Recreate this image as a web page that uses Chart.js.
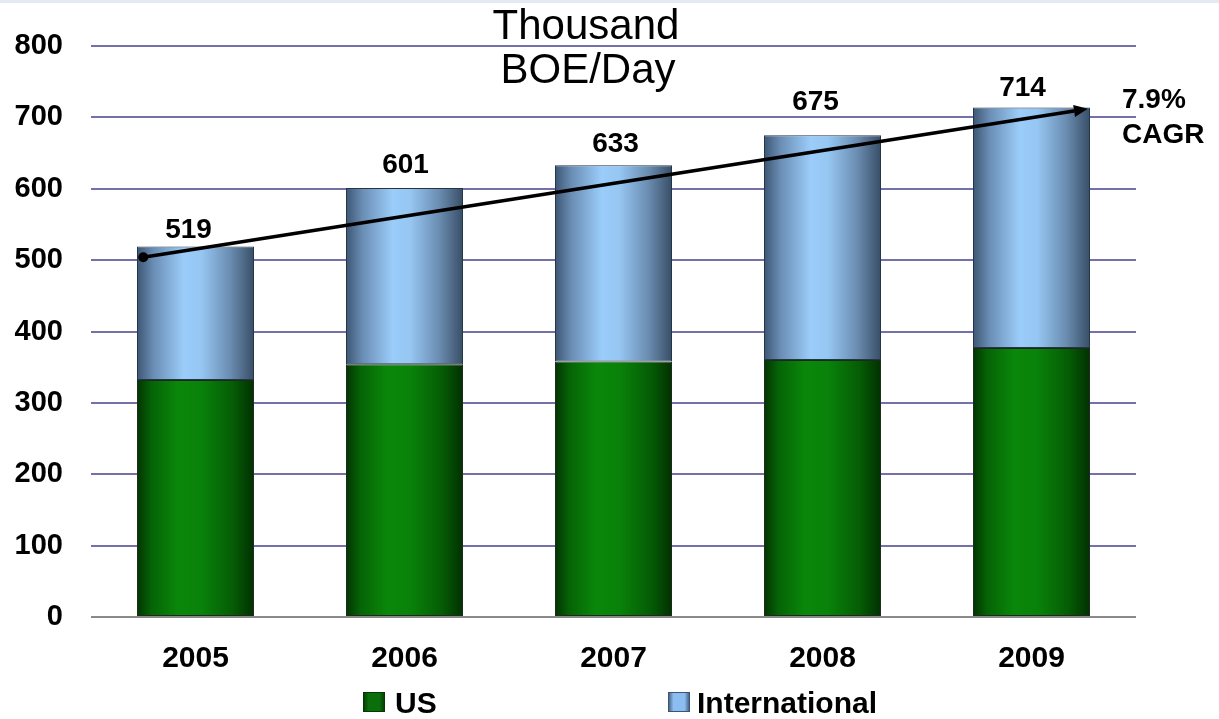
<!DOCTYPE html>
<html>
<head>
<meta charset="utf-8">
<title>Production, Thousand BOE/Day</title>
<script src="https://cdn.jsdelivr.net/npm/chart.js@4.4.1/dist/chart.umd.min.js"></script>
<style>
  html, body { margin: 0; padding: 0; background: #ffffff; }
  #wrap { width: 1219px; height: 719px; position: relative; }
</style>
</head>
<body>
<div id="wrap"><canvas id="c"></canvas></div>
<script>
// Production by region, thousand barrels of oil equivalent per day
const years = ['2005', '2006', '2007', '2008', '2009'];
const usVolume = [332, 354, 358, 360, 377];
const intlVolume = [187, 247, 275, 315, 337];
const yTicks = [0, 100, 200, 300, 400, 500, 600, 700, 800];

// Growth trend arrow (category position, value) and its caption
const trendStart = { x: -0.25, y: 504 };
const trendEnd = { x: 4.27, y: 712 };
const trendCaption = ['7.9%', 'CAGR'];
const unitTitle = ['Thousand', 'BOE/Day'];

const FONT = "'Liberation Sans', Arial, Helvetica, sans-serif";
const BAR_PCT = 0.56;
// hand-placed nudges (px) for the total labels so they clear the arrow
const totalNudgeX = [-7, 1, 2, -7, -9];
const totalLift = [9, 15, 13, 25, 11];

function barGradient(ctx, stops, fallback) {
  const chart = ctx.chart;
  const area = chart.chartArea;
  const xs = chart.scales.x;
  if (!area || !xs || ctx.dataIndex === undefined) return fallback;
  const cx = xs.getPixelForValue(ctx.dataIndex);
  const half = (area.right - area.left) / years.length * BAR_PCT / 2;
  const g = chart.ctx.createLinearGradient(cx - half, 0, cx + half, 0);
  stops.forEach(s => g.addColorStop(s[0], s[1]));
  return g;
}

const greenStops = [[0, '#033303'], [0.12, '#056305'], [0.35, '#0a870a'], [0.55, '#098209'], [0.82, '#055c05'], [1, '#023002']];
const blueStops = [[0, '#3d5673'], [0.14, '#6a8db4'], [0.4, '#9bcdfa'], [0.55, '#96c6f2'], [0.8, '#6a8cb0'], [1, '#384e66']];

const overlay = {
  id: 'overlay',
  beforeDraw(chart) {
    const c = chart.ctx;
    c.save();
    c.fillStyle = '#e3eaf1';
    c.fillRect(0, 0, chart.width, 3);
    c.restore();
  },
  afterDatasetsDraw(chart) {
    const c = chart.ctx;
    const xs = chart.scales.x, ys = chart.scales.y;
    const catW = (chart.chartArea.right - chart.chartArea.left) / years.length;
    c.save();

    // totals above each stack
    c.fillStyle = '#000';
    c.font = 'bold 28px ' + FONT;
    c.textAlign = 'center';
    c.textBaseline = 'alphabetic';
    years.forEach((y, i) => {
      const total = usVolume[i] + intlVolume[i];
      c.fillText(String(total), xs.getPixelForValue(i) + totalNudgeX[i], ys.getPixelForValue(total) - totalLift[i]);
    });

    // trend arrow
    const x0 = xs.getPixelForValue(0) + trendStart.x * catW;
    const y0 = ys.getPixelForValue(trendStart.y);
    const x1 = xs.getPixelForValue(0) + trendEnd.x * catW;
    const y1 = ys.getPixelForValue(trendEnd.y);
    const ang = Math.atan2(y1 - y0, x1 - x0);
    const head = 14, hw = 6;
    c.strokeStyle = '#000';
    c.lineWidth = 3.5;
    c.beginPath();
    c.moveTo(x0, y0);
    c.lineTo(x1 - head * Math.cos(ang), y1 - head * Math.sin(ang));
    c.stroke();
    c.fillStyle = '#000';
    c.beginPath();
    c.moveTo(x1, y1);
    c.lineTo(x1 - head * Math.cos(ang) + hw * Math.sin(ang), y1 - head * Math.sin(ang) - hw * Math.cos(ang));
    c.lineTo(x1 - head * Math.cos(ang) - hw * Math.sin(ang), y1 - head * Math.sin(ang) + hw * Math.cos(ang));
    c.closePath();
    c.fill();
    c.beginPath();
    c.arc(x0, y0, 5, 0, Math.PI * 2);
    c.fill();

    // caption next to the arrow head
    c.textAlign = 'left';
    c.font = 'bold 28px ' + FONT;
    c.fillText(trendCaption[0], 1122, 108);
    c.fillText(trendCaption[1], 1122, 143);

    // unit title
    c.textAlign = 'center';
    c.font = '42px ' + FONT;
    c.fillText(unitTitle[0], 586, 39);
    c.fillText(unitTitle[1], 588, 83);

    // legend
    const items = [
      { ds: chart.data.datasets[0], box: 363, gap: 32, fill: '#0a6e0a', edge: '#033a03' },
      { ds: chart.data.datasets[1], box: 668, gap: 29, fill: '#8cbdf0', edge: '#3b5575' }
    ];
    items.forEach(it => {
      const lg = c.createLinearGradient(it.box, 0, it.box + 22, 0);
      lg.addColorStop(0, it.edge);
      lg.addColorStop(0.25, it.fill);
      lg.addColorStop(0.75, it.fill);
      lg.addColorStop(1, it.edge);
      c.fillStyle = lg;
      c.fillRect(it.box, 692, 22, 20);
      c.strokeStyle = it.edge;
      c.lineWidth = 1;
      c.strokeRect(it.box + 0.5, 692.5, 21, 19);
      c.fillStyle = '#000';
      c.textAlign = 'left';
      c.font = 'bold 30px ' + FONT;
      c.fillText(it.ds.label, it.box + it.gap, 713);
    });
    c.restore();
  }
};

new Chart(document.getElementById('c'), {
  type: 'bar',
  data: {
    labels: years,
    datasets: [
      {
        label: 'US',
        data: usVolume,
        backgroundColor: ctx => barGradient(ctx, greenStops, '#0a7a0a'),
        borderColor: '#1c2a1c',
        borderWidth: 1,
        borderSkipped: false
      },
      {
        label: 'International',
        data: intlVolume,
        backgroundColor: ctx => barGradient(ctx, blueStops, '#8fbfee'),
        borderColor: '#253548',
        borderWidth: 1,
        borderSkipped: false
      }
    ]
  },
  options: {
    responsive: true,
    maintainAspectRatio: false,
    animation: false,
    devicePixelRatio: 1,
    layout: { padding: { top: 46, right: 83, left: 0, bottom: 0 } },
    datasets: { bar: { barPercentage: BAR_PCT, categoryPercentage: 1 } },
    plugins: {
      legend: { display: false },
      title: { display: false },
      tooltip: { enabled: false }
    },
    scales: {
      x: {
        stacked: true,
        grid: { display: false, drawTicks: false },
        border: { display: false },
        ticks: { color: '#000', font: { family: FONT, size: 30, weight: 'bold' }, padding: 24 },
        afterFit(s) { s.height = 102; }
      },
      y: {
        stacked: true,
        min: 0,
        max: 800,
        afterBuildTicks(s) { s.ticks = yTicks.map(v => ({ value: v })); },
        grid: {
          drawTicks: false,
          lineWidth: 2,
          color: c => (c.tick && c.tick.value === 0 ? '#8a8a8a' : '#7470a8')
        },
        border: { display: false },
        ticks: { color: '#000', font: { family: FONT, size: 29, weight: 'bold' }, padding: 28 },
        afterFit(s) { s.width = 91; }
      }
    }
  },
  plugins: [overlay]
});
</script>
</body>
</html>
